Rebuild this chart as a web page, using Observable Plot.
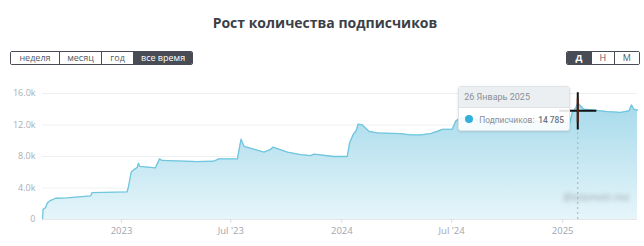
<!DOCTYPE html>
<html>
<head>
<meta charset="utf-8">
<script src="https://cdn.jsdelivr.net/npm/d3@7"></script>
<script src="https://cdn.jsdelivr.net/npm/@observablehq/plot@0.6"></script>
<style>
  body { margin: 0; background: #fff; font-family: "Open Sans", sans-serif; width: 644px; height: 246px; overflow: hidden; position: relative; }
  #head { position: relative; height: 80px; }
  #title { position: absolute; left: 0; width: 650px; top: 13px; text-align: center; font-size: 14px; font-weight: 700; color: #3b3f47; }
  .grp { position: absolute; top: 51px; height: 14px; display: flex; border: 1px solid #474c55; border-radius: 2px; box-sizing: border-box; overflow: hidden; }
  .grp div { box-sizing: border-box; height: 12px; line-height: 12px; font-size: 9px; text-align: center; color: #555b64; border-left: 1px solid #474c55; background: #fff; }
  .grp div:first-child { border-left: none; }
  .grp div.on { background: #474c55; color: #fff; }
  #tip { position: absolute; box-sizing: border-box; border: 1px solid #dfe3e6; border-radius: 3px; background: rgba(255,255,255,0.88); box-shadow: 0 1px 3px rgba(0,0,0,0.12); font-family: Roboto, sans-serif; font-size: 9px; color: #8a9099; overflow: hidden; }
  #tip .h { background: #eceff1; height: 20px; line-height: 20px; padding-left: 5px; border-bottom: 1px solid #dfe3e6; }
  #tip .b { height: 24px; line-height: 24px; padding-left: 6px; white-space: nowrap; font-size: 8.4px; }
  #tip .dot { display: inline-block; width: 8px; height: 8px; border-radius: 50%; background: #33b0da; vertical-align: middle; margin-right: 6px; position: relative; top: -1px; }
  #tip b { color: #6b717a; font-weight: 500; margin-left: 4px; }
  #wm { position: absolute; font-size: 10px; color: #8f949a; filter: blur(2.2px); opacity: 0.8; }
</style>
</head>
<body>
<div id="head">
  <div id="title">Рост количества подписчиков</div>
  <div class="grp" style="left:10px;width:183px">
    <div style="width:48.5px">неделя</div><div style="width:42.5px">месяц</div><div style="width:32.5px">год</div><div class="on" style="width:59.5px">все время</div>
  </div>
  <div class="grp" style="left:566px;width:74px">
    <div class="on" style="width:24.5px;font-weight:700">Д</div><div style="width:23.5px">Н</div><div style="width:26px">М</div>
  </div>
</div>
<div id="chart"></div>
<script>
const dates = [
  "2022-08-23","2022-08-24","2022-08-28","2022-08-31","2022-09-05","2022-09-14","2022-10-03","2022-11-11","2022-11-13",
  "2023-01-10","2023-01-12","2023-01-17","2023-01-21","2023-01-27","2023-01-29","2023-01-31","2023-02-26","2023-03-05",
  "2023-03-09","2023-05-06","2023-06-03","2023-06-11","2023-07-12","2023-07-18","2023-07-23","2023-08-25","2023-09-05",
  "2023-09-09","2023-10-03","2023-10-25","2023-11-10","2023-11-16","2023-12-19","2024-01-10","2024-01-14","2024-01-20",
  "2024-01-25","2024-01-28","2024-02-04","2024-02-15","2024-02-29","2024-04-07","2024-04-24","2024-05-11","2024-05-27",
  "2024-06-07","2024-06-16","2024-07-02","2024-07-08","2024-07-13","2024-07-25","2024-08-20","2024-10-01","2024-11-15",
  "2024-12-20","2025-01-13","2025-01-17","2025-01-23","2025-01-26","2025-02-05","2025-02-22","2025-03-16","2025-04-07",
  "2025-04-21","2025-04-25","2025-04-29","2025-05-05"
];
const subscribers = [
  0,1300,1500,2100,2400,2700,2750,3000,3400,
  3500,4000,6000,6300,6600,7150,6750,6550,7700,
  7500,7350,7400,7700,7700,10200,9300,8550,8900,
  9200,8550,8250,8100,8300,8000,8000,9750,10800,
  11300,12100,12000,11200,11000,10900,10750,10750,10900,
  11200,11450,11450,12500,12800,12900,12700,12600,12500,
  12400,12300,13600,14200,14785,14000,13900,13700,13600,
  13800,14550,14000,13900
];
const yTicks = [0, 4000, 8000, 12000, 16000];
const xTicks = ["2023-01-01","2023-07-01","2024-01-01","2024-07-01","2025-01-01"];
const xTickLabels = ["2023", "Jul '23", "2024", "Jul '24", "2025"];
const tipDate = "2025-01-26";
const tipLabel = "26 Январь 2025";
const tipValue = "14 785";
const cursorValue = 13800;

const parse = d3.utcParse("%Y-%m-%d");
const data = dates.map((d, i) => ({date: parse(d), value: subscribers[i]}));
const xt = xTicks.map(parse);
const tip = parse(tipDate);

const plot = Plot.plot({
  width: 644,
  height: 166,
  marginLeft: 42,
  marginRight: 7,
  marginTop: 13,
  marginBottom: 27,
  style: {fontFamily: "Open Sans, sans-serif", fontSize: "9px", background: "transparent"},
  x: {type: "utc", domain: [data[0].date, data[data.length - 1].date]},
  y: {domain: [0, 16000]},
  marks: [
    Plot.gridY(yTicks, {stroke: "#edf0f2", strokeOpacity: 1}),
    Plot.areaY(data, {x: "date", y: "value", fill: "url(#areaGrad)", curve: "linear"}),
    Plot.lineY(data, {x: "date", y: "value", stroke: "#6fc6de", strokeWidth: 1.3}),
    Plot.ruleY([0], {stroke: "#e3e7ea"}),
    Plot.ruleX([tip], {y1: 0, y2: 16000, stroke: "#a9b0b8", strokeDasharray: "2,3", strokeWidth: 1}),
    Plot.axisY(yTicks, {label: null, tickSize: 0, tickPadding: 7, color: "#a9afb8", tickFormat: d => d === 0 ? "0" : (d / 1000).toFixed(1) + "k"}),
    Plot.axisX(xt, {label: null, tickSize: 4, tickPadding: 4, color: "#a0a6b0", tickFormat: (d, i) => xTickLabels[i], fontSize: 9.5}),
    Plot.dot([{date: tip, value: cursorValue}], {x: "date", y: "value", symbol: "plus", r: 12, stroke: "#111", strokeWidth: 2}),
    Plot.ruleX([{date: tip, lo: cursorValue - 1500, hi: cursorValue + 1500}], {x: "date", y1: "lo", y2: "hi", stroke: "#5a1d12", strokeWidth: 2})
  ]
});

const defs = d3.select(plot).insert("defs", ":first-child");
const g = defs.append("linearGradient").attr("id", "areaGrad").attr("x1", 0).attr("x2", 0);
g.append("stop").attr("offset", "0%").attr("stop-color", "#a6daeb");
g.append("stop").attr("offset", "100%").attr("stop-color", "#e6f5fa");
g.attr("gradientUnits", "userSpaceOnUse").attr("y1", plot.scale("y").apply(14785)).attr("y2", plot.scale("y").apply(0));
d3.select(plot).selectAll("[aria-label='x-axis tick'] line, [aria-label='x-axis tick'] path").attr("stroke", "#d9dde2");
document.getElementById("chart").appendChild(plot);

// tooltip anchored to the hovered data point via the plot's scales
const px = plot.scale("x").apply(tip);
const tipEl = document.createElement("div");
tipEl.id = "tip";
tipEl.style.left = (px - 119) + "px";
tipEl.style.top = "85.5px";
tipEl.style.width = "112px";
tipEl.style.height = "45.5px";
tipEl.innerHTML = `<div class="h">${tipLabel}</div><div class="b"><span class="dot"></span>Подписчиков:<b>${tipValue}</b></div>`;
document.body.appendChild(tipEl);

const wm = document.createElement("div");
wm.id = "wm";
wm.style.left = "563px";
wm.style.top = "190px";
wm.textContent = "@telemetr.me";
document.body.appendChild(wm);
</script>
</body>
</html>
